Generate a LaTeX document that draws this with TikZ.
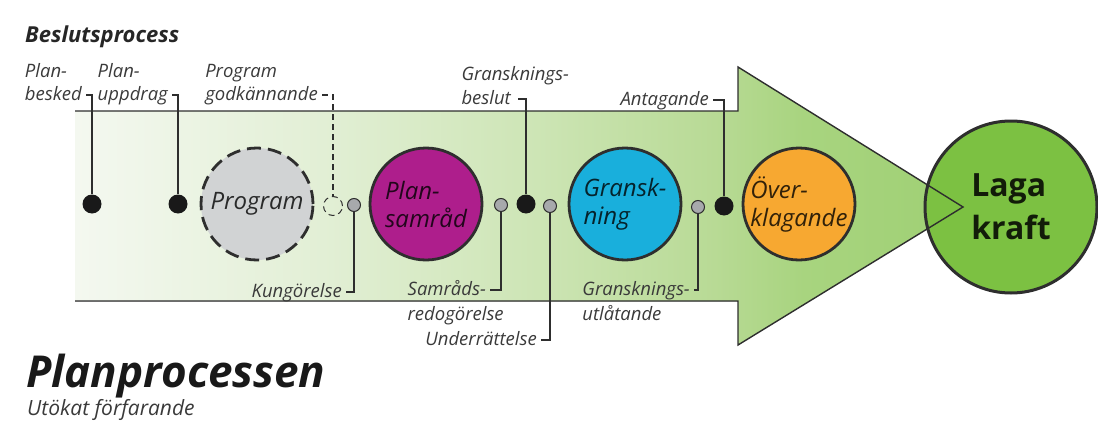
\documentclass[tikz,border=0pt]{standalone}
\usepackage{fontspec}
\setmainfont{Open Sans}
\definecolor{inktext}{HTML}{3A3A3A}
\definecolor{inkline}{HTML}{2E2E2E}
\definecolor{progGray}{HTML}{D1D3D4}
\definecolor{samradPurple}{HTML}{AE1E8C}
\definecolor{granskBlue}{HTML}{19AFDC}
\definecolor{overOrange}{HTML}{F7A831}
\definecolor{lagaGreen}{HTML}{7CC142}
\definecolor{noticeGray}{HTML}{A7A9AC}
\definecolor{shA}{HTML}{F4F8F0}
\definecolor{shB}{HTML}{E2EFD5}
\definecolor{shC}{HTML}{CDE5B5}
\definecolor{shD}{HTML}{B8DA95}
\definecolor{shE}{HTML}{A8D47F}
\definecolor{shF}{HTML}{9FD074}
\pgfdeclarehorizontalshading{arrowshade}{100bp}{color(0bp)=(shA); color(25bp)=(shA); color(39bp)=(shB); color(51bp)=(shC); color(61bp)=(shD); color(66bp)=(shE); color(75bp)=(shF); color(100bp)=(shF)}
\tikzset{
  stage/.style={circle, draw=inkline, line width=2.8pt, minimum size=112pt, inner sep=0pt, align=left, text=black, text opacity=.8, font=\itshape\fontsize{24}{28}\selectfont},
  decision/.style={circle, fill=black!90, minimum size=19pt, inner sep=0pt},
  notice/.style={circle, draw=inkline, line width=1pt, fill=noticeGray, minimum size=13pt, inner sep=0pt},
  lbl/.style={font=\itshape\fontsize{18.5}{22}\selectfont, text=inktext, inner sep=0pt},
  hook/.style={draw=inkline, line width=1.3pt},
  godk/.style={dash pattern=on 6pt off 4pt}
}
\begin{document}
\begin{tikzpicture}[x=1pt,y=-1pt]
    \useasboundingbox (0,0) rectangle (1098,423);
    % pil
    \fill[shading=arrowshade] (75,111) -- (738,111) -- (738,67) -- (963,207) -- (738,345) -- (738,301) -- (75,301) -- cycle;
    \node[stage, line width=3pt, minimum size=172pt, fill=lagaGreen, align=left, text opacity=.85, font=\bfseries\fontsize{32}{43}\selectfont] (laga) at (1011,207) {Laga\\kraft};
    \draw[inkline, line width=1.4pt] (75,111) -- (738,111) -- (738,67) -- (963,207) -- (738,345) -- (738,301) -- (75,301);

    \node[stage, fill=progGray, dash pattern=on 14pt off 7pt] (program) at (257,204) {Program};
    \node[stage, fill=samradPurple] (samrad) at (426,204) {Plan-\\samråd};
    \node[stage, fill=granskBlue] (gransk) at (625,204) {Gransk-\\ning};
    \node[stage, fill=overOrange] (over) at (799,204) {Över-\\klagande};

    \node[decision] (dBesked) at (92,204) {};
    \node[decision] (dUppdrag) at (178,204) {};
    \node[notice, godk, fill=none, minimum size=19pt] (nGodk) at (333,206) {};
    \node[notice] (nKung) at (354,205) {};
    \node[notice] (nRedog) at (501,205) {};
    \node[decision] (dBeslut) at (526,204) {};
    \node[notice] (nUnder) at (550,206) {};
    \node[notice] (nUtlat) at (698,207) {};
    \node[decision] (dAntag) at (724,206) {};

    % beslut ovanfor
    \node[lbl, anchor=base east] (besked) at (82,100) {besked};
    \draw (besked.base west) ++(0,-23) node[lbl, anchor=base west] (besked1) {Plan-};
    \node[lbl, anchor=base east] (uppdrag) at (168,100) {uppdrag};
    \draw (uppdrag.base west) ++(0,-23) node[lbl, anchor=base west] (uppdrag1) {Plan-};
    \node[lbl, anchor=base east] (godk) at (318,100) {godkännande};
    \draw (godk.base west) ++(0,-23) node[lbl, anchor=base west] (godk1) {Program};
    \node[lbl, anchor=base east] (beslut) at (511,104) {beslut};
    \draw (beslut.base west) ++(0,-24) node[lbl, anchor=base west] (beslut1) {Gransknings-};
    \node[lbl, anchor=base east] (antag) at (709,105) {Antagande};

    \draw[hook] ([xshift=4pt,yshift=5pt]besked.base east) -| (dBesked);
    \draw[hook] ([xshift=4pt,yshift=5pt]uppdrag.base east) -| (dUppdrag);
    \draw[hook, godk] ([xshift=4pt,yshift=5pt]godk.base east) -| (nGodk);
    \draw[hook] ([xshift=7pt,yshift=5pt]beslut.base east) -| (dBeslut);
    \draw[hook] ([xshift=4pt,yshift=5pt]antag.base east) -| (dAntag);

    % kungorelser nedanfor
    \node[lbl, anchor=base east] (kung) at (342,297) {Kungörelse};
    \node[lbl, anchor=base east] (redog) at (486,295) {Samråds-};
    \draw (redog.base west) ++(0,25) node[lbl, anchor=base west] (redog2) {redogörelse};
    \node[lbl, anchor=base east] (under) at (537,345) {Underrättelse};
    \node[lbl, anchor=base east] (utlat) at (690,295) {Gransknings-};
    \draw (utlat.base west) ++(0,25) node[lbl, anchor=base west] (utlat2) {utlåtande};

    \draw[hook] ([xshift=4pt,yshift=5pt]kung.base east) -| (nKung);
    \draw[hook] ([xshift=4pt,yshift=5pt]redog.base east) -| (nRedog);
    \draw[hook] ([xshift=4pt,yshift=5pt]under.base east) -| (nUnder);
    \draw[hook] ([xshift=4pt,yshift=5pt]utlat.base east) -| (nUtlat);

    \node[anchor=base west, inner sep=0pt, text=black!85, font=\bfseries\itshape\fontsize{22}{26}\selectfont] (rubrik) at (25,42) {Beslutsprocess};
    \node[anchor=base west, inner sep=0pt, text=black!90, font=\bfseries\itshape\fontsize{44}{52}\selectfont] (plan) at (26,387) {Planprocessen};
    \node[anchor=base west, inner sep=0pt, text=inktext, font=\itshape\fontsize{21}{25}\selectfont] (variant) at (27,415) {Utökat förfarande};
\end{tikzpicture}
\end{document}
